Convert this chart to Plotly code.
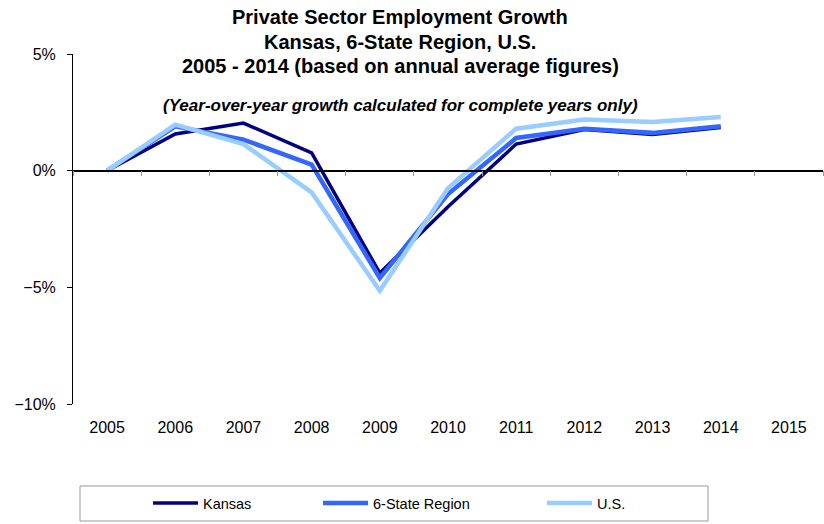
import plotly.graph_objects as go

# Annual private-sector employment growth (%)
years = ["2005", "2006", "2007", "2008", "2009", "2010", "2011", "2012", "2013", "2014", "2015"]
kansas = [0.0, 1.57, 2.04, 0.76, -4.39, -1.55, 1.14, 1.76, 1.55, 1.85, None]
region6 = [0.0, 1.90, 1.33, 0.26, -4.60, -1.00, 1.40, 1.80, 1.62, 1.90, None]
us = [0.0, 1.97, 1.14, -0.93, -5.15, -0.75, 1.80, 2.19, 2.09, 2.30, None]

series_names = ["Kansas", "6-State Region", "U.S."]
series_colors = ["#000080", "#3366FF", "#99CCFF"]
series_widths = [3.5, 4.5, 4.5]
legend_ids = ["legend", "legend2", "legend3"]
legend_left_px = [148, 318, 542]

FONT = "Liberation Sans, Arial, sans-serif"
W, H = 824, 524
ML, MR, MT, MB = 73, 1, 54, 120
plot_w = W - ML - MR
plot_h = H - MT - MB


def px_x(px):
    return (px - ML) / plot_w


def px_y(py):
    return 1 - (py - MT) / plot_h


def heading(text, px, py, size):
    # heading text placed by pixel position on the page
    return dict(
        text=text, xref="paper", yref="paper", x=px_x(px), y=px_y(py),
        xanchor="center", yanchor="middle", showarrow=False,
        font=dict(family=FONT, size=size, color="black"),
    )


def legend_box(left_px):
    return dict(
        orientation="h", x=px_x(left_px), y=px_y(503),
        xanchor="left", yanchor="middle",
        font=dict(family=FONT, size=14.5, color="black"),
        itemwidth=45, bgcolor="rgba(0,0,0,0)", borderwidth=0,
    )


fig = go.Figure()
for name, vals, col, w, lg in zip(series_names, [kansas, region6, us],
                                  series_colors, series_widths, legend_ids):
    fig.add_trace(go.Scatter(
        x=years, y=vals, name=name, mode="lines", legend=lg,
        line=dict(color=col, width=w), connectgaps=False,
    ))

# hidden trace that carries the zero-line category axis
fig.add_trace(go.Scatter(
    x=years, y=[None] * len(years), xaxis="x2", showlegend=False,
    hoverinfo="skip", mode="lines",
))

fig.update_layout(
    width=W, height=H,
    margin=dict(l=ML, r=MR, t=MT, b=MB),
    paper_bgcolor="white", plot_bgcolor="white",
    font=dict(family=FONT, color="black", size=16),
    showlegend=True,
    legend=legend_box(legend_left_px[0]),
    legend2=legend_box(legend_left_px[1]),
    legend3=legend_box(legend_left_px[2]),
    xaxis=dict(
        type="category", categoryarray=years, range=[-0.5, 10.5],
        showline=False, ticks="", showgrid=False, zeroline=False,
        tickfont=dict(size=16), ticklabelstandoff=12,
    ),
    xaxis2=dict(
        type="category", categoryarray=years, range=[-0.5, 10.5],
        overlaying="x", anchor="free", position=2 / 3, side="bottom",
        showline=True, linecolor="black", linewidth=1.5,
        ticks="outside", tickson="boundaries", ticklen=5, tickcolor="#999999",
        showticklabels=False, showgrid=False, zeroline=False,
    ),
    yaxis=dict(
        range=[-10, 5], dtick=5, ticksuffix="%",
        showline=True, linecolor="black", linewidth=1,
        ticks="outside", ticklen=5, tickcolor="black",
        showgrid=False, zeroline=False, tickfont=dict(size=16),
        ticklabelstandoff=8,
    ),
    shapes=[dict(
        type="rect", xref="paper", yref="paper",
        x0=px_x(80), x1=px_x(708), y0=px_y(521), y1=px_y(486),
        line=dict(color="#999999", width=1), fillcolor="rgba(0,0,0,0)",
    )],
    annotations=[
        heading("<b>Private Sector Employment Growth</b>", 400, 17, 20),
        heading("<b>Kansas, 6-State Region, U.S.</b>", 400, 42, 20),
        heading("<b>2005 - 2014 (based on annual average figures)</b>", 400, 66, 20),
        heading("<b><i>(Year-over-year growth calculated for complete years only)</i></b>",
                400, 105, 17),
    ],
)

fig.write_html("out.html")
